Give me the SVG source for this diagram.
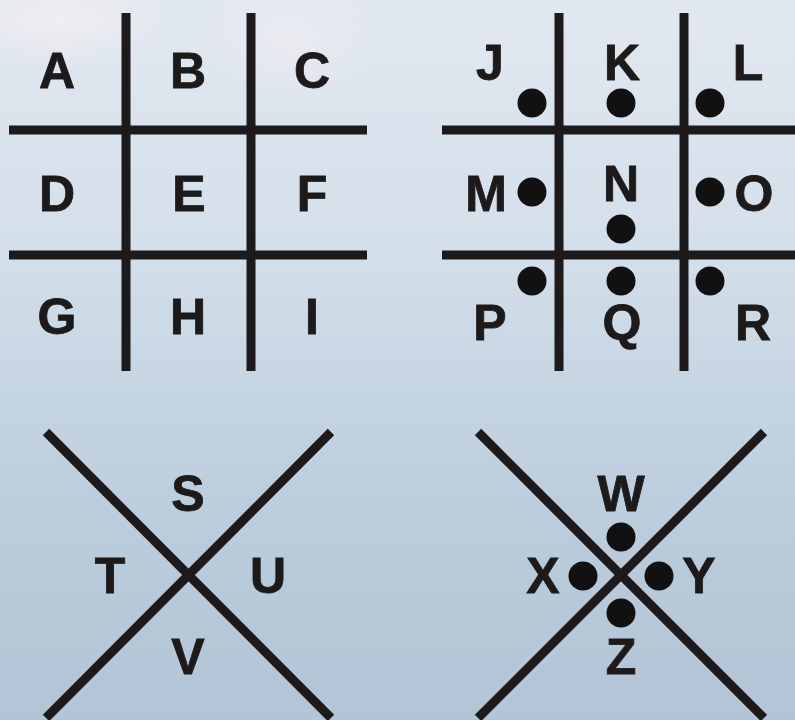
<svg xmlns="http://www.w3.org/2000/svg" width="795" height="720" viewBox="0 0 795 720">
<defs>
<linearGradient id="bg" x1="0" y1="0" x2="0" y2="1">
<stop offset="0" stop-color="#e2e8f0"/>
<stop offset="0.35" stop-color="#d3dfea"/>
<stop offset="0.7" stop-color="#bccddd"/>
<stop offset="1" stop-color="#b2c4d5"/>
</linearGradient>
<radialGradient id="glow" cx="0.5" cy="0.5" r="0.5">
<stop offset="0" stop-color="#f3eef2" stop-opacity="0.9"/>
<stop offset="1" stop-color="#f3eef2" stop-opacity="0"/>
</radialGradient>
<style>
.ln{stroke:#1c1a1a;stroke-width:9;fill:none}
.t{font-family:"Liberation Sans",Arial,sans-serif;font-weight:bold;font-size:50px;fill:#1c1a1a;stroke:#1c1a1a;stroke-width:0.8;text-anchor:middle}
.d{fill:#111}
</style>
</defs>
<rect width="795" height="720" fill="url(#bg)"/>
<ellipse cx="60" cy="20" rx="110" ry="45" fill="url(#glow)"/>
<ellipse cx="290" cy="40" rx="90" ry="60" fill="url(#glow)" opacity="0.6"/>
<g id="connectors">
<line class="ln" x1="126" y1="13" x2="126" y2="371"/>
<line class="ln" x1="251" y1="13" x2="251" y2="371"/>
<line class="ln" x1="9" y1="130" x2="367" y2="130"/>
<line class="ln" x1="9" y1="255" x2="367" y2="255"/>
<line class="ln" x1="559" y1="13" x2="559" y2="371"/>
<line class="ln" x1="684" y1="13" x2="684" y2="371"/>
<line class="ln" x1="442" y1="130" x2="795" y2="130"/>
<line class="ln" x1="442" y1="255" x2="795" y2="255"/>
<line class="ln" x1="46" y1="432" x2="331" y2="718"/>
<line class="ln" x1="331" y1="432" x2="46" y2="718"/>
<line class="ln" x1="478" y1="432" x2="764" y2="718"/>
<line class="ln" x1="764" y1="432" x2="478" y2="718"/>
</g>
<g id="A"><text class="t" x="57" y="88">A</text></g>
<g id="B"><text class="t" x="188" y="88">B</text></g>
<g id="C"><text class="t" x="312" y="88">C</text></g>
<g id="D"><text class="t" x="57" y="211">D</text></g>
<g id="E"><text class="t" x="189" y="211">E</text></g>
<g id="F"><text class="t" x="312" y="211">F</text></g>
<g id="G"><text class="t" x="57" y="334">G</text></g>
<g id="H"><text class="t" x="188" y="334">H</text></g>
<g id="I"><text class="t" x="312" y="334">I</text></g>
<g id="J"><text class="t" x="490" y="80">J</text><circle class="d" cx="532" cy="103" r="14.5"/></g>
<g id="K"><text class="t" x="622" y="80">K</text><circle class="d" cx="621" cy="103" r="14.5"/></g>
<g id="L"><text class="t" x="748" y="80">L</text><circle class="d" cx="710" cy="103" r="14.5"/></g>
<g id="M"><text class="t" x="486" y="211">M</text><circle class="d" cx="532" cy="192" r="14.5"/></g>
<g id="N"><text class="t" x="621" y="201">N</text><circle class="d" cx="621" cy="229" r="14.5"/></g>
<g id="O"><text class="t" x="754" y="211">O</text><circle class="d" cx="710" cy="192" r="14.5"/></g>
<g id="P"><text class="t" x="490" y="340">P</text><circle class="d" cx="532" cy="281" r="14.5"/></g>
<g id="Q"><text class="t" x="622" y="340">Q</text><circle class="d" cx="621" cy="281" r="14.5"/></g>
<g id="R"><text class="t" x="753" y="340">R</text><circle class="d" cx="710" cy="281" r="14.5"/></g>
<g id="S"><text class="t" x="188" y="511">S</text></g>
<g id="T"><text class="t" x="110" y="593">T</text></g>
<g id="U"><text class="t" x="268" y="593">U</text></g>
<g id="V"><text class="t" x="188" y="674">V</text></g>
<g id="W"><text class="t" x="621" y="511">W</text><circle class="d" cx="621" cy="537" r="14.5"/></g>
<g id="X"><text class="t" x="543" y="593">X</text><circle class="d" cx="583" cy="576" r="14.5"/></g>
<g id="Y"><text class="t" x="699" y="593">Y</text><circle class="d" cx="659" cy="576" r="14.5"/></g>
<g id="Z"><text class="t" x="621" y="674">Z</text><circle class="d" cx="621" cy="613" r="14.5"/></g>
</svg>
